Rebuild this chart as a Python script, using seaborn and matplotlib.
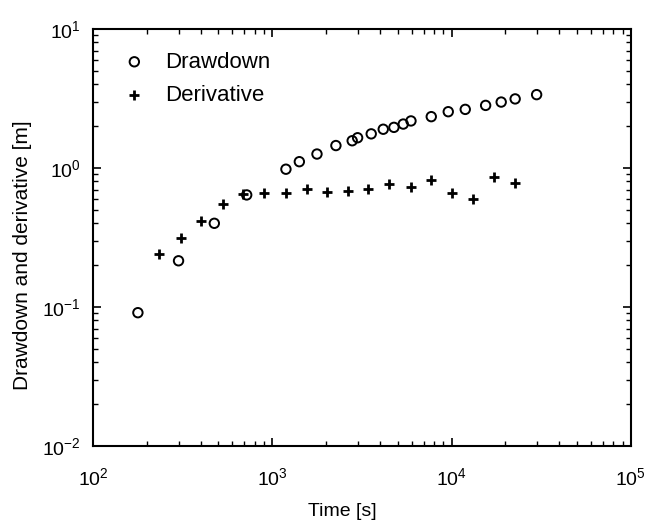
import numpy as np
import pandas as pd
import seaborn as sns
import matplotlib
matplotlib.use("Agg")
import matplotlib.pyplot as plt

# values
t_draw = [178, 300, 475, 720, 1192, 1416, 1776, 2265, 2792, 2993, 3565, 4160,
          4773, 5380, 5940, 7710, 9590, 11930, 15500, 18930, 22650, 29840]
s_draw = [0.091, 0.215, 0.40, 0.64, 0.98, 1.11, 1.26, 1.45, 1.57, 1.65, 1.76, 1.90,
          1.96, 2.07, 2.18, 2.34, 2.54, 2.64, 2.82, 2.98, 3.14, 3.37]

t_deriv = [233, 308, 399, 529, 689, 895, 1188, 1556, 2011, 2636, 3427, 4495,
           5940, 7710, 10090, 13220, 17230, 22650]
s_deriv = [0.240, 0.312, 0.416, 0.548, 0.647, 0.658, 0.658, 0.703, 0.676, 0.688,
           0.703, 0.767, 0.727, 0.820, 0.664, 0.595, 0.865, 0.784]

draw = pd.DataFrame({"t": t_draw, "s": s_draw})
deriv = pd.DataFrame({"t": t_deriv, "s": s_deriv})

sns.set_theme(style="ticks")
plt.rcParams["font.family"] = ["Liberation Sans", "DejaVu Sans"]
plt.rcParams["axes.unicode_minus"] = False
plt.rcParams["axes.linewidth"] = 1.5
plt.rcParams["text.color"] = "black"
plt.rcParams["axes.labelcolor"] = "black"
plt.rcParams["xtick.color"] = "black"
plt.rcParams["ytick.color"] = "black"
plt.rcParams["xtick.direction"] = "in"
plt.rcParams["ytick.direction"] = "in"
plt.rcParams["xtick.top"] = True
plt.rcParams["ytick.right"] = True

fig = plt.figure(figsize=(6.55, 5.23), dpi=100)
ax = fig.add_axes([0.142, 0.1472, 0.821, 0.7974])

sns.scatterplot(data=draw, x="t", y="s", ax=ax, marker="o", s=46,
                fc="none", ec="black", linewidth=1.4, label="Drawdown")
sns.scatterplot(data=deriv, x="t", y="s", ax=ax, marker="+", s=60,
                color="black", linewidth=2, label="Derivative")

ax.set_xscale("log")
ax.set_yscale("log")
ax.set_xlim(1e2, 1e5)
ax.set_ylim(1e-2, 1e1)

ax.tick_params(which="major", length=6, width=1.2, labelsize=14)
ax.tick_params(axis="x", which="major", pad=15)
ax.tick_params(axis="y", which="major", pad=9)
ax.tick_params(which="minor", length=3.5, width=1.0)
for sp in ax.spines.values():
    sp.set_color("black")

ax.set_xlabel("Time [s]", fontsize=14)
ax.set_ylabel("Drawdown and derivative [m]", fontsize=15)
ax.xaxis.set_label_coords(0.463, -0.137)
ax.yaxis.set_label_coords(-0.113, 0.458)

leg = ax.legend(loc="upper left", frameon=False, fontsize=16,
                handletextpad=0.4, borderaxespad=0.0, labelspacing=0.55,
                bbox_to_anchor=(0.019, 0.967))

fig.savefig("out.png", dpi=100)
